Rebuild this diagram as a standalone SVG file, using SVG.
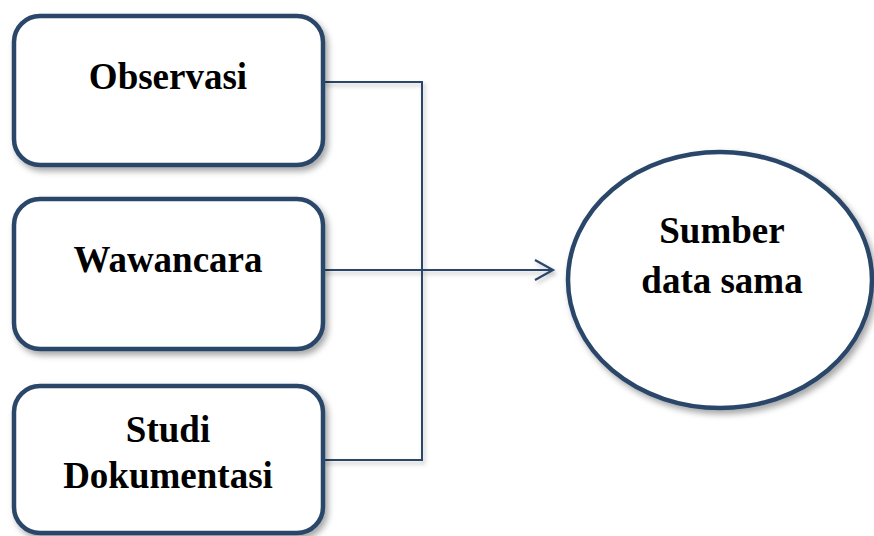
<svg xmlns="http://www.w3.org/2000/svg" width="874" height="536" viewBox="0 0 874 536">
<defs>
<filter id="sh" x="-10%" y="-10%" width="125%" height="130%">
<feDropShadow dx="3" dy="4" stdDeviation="3" flood-color="#000" flood-opacity="0.35"/>
</filter>
<filter id="lsh" x="-5%" y="-20%" width="110%" height="200%">
<feDropShadow dx="2" dy="3" stdDeviation="2" flood-color="#000" flood-opacity="0.25"/>
</filter>
<marker id="arr" markerWidth="22" markerHeight="24" refX="19" refY="12" orient="auto" markerUnits="userSpaceOnUse">
<path d="M1,2 L19,12 L1,22" fill="none" stroke="#2a4669" stroke-width="2.2"/>
</marker>
</defs>
<style>
.box{fill:#fff;stroke:#2a4669;stroke-width:4.5;filter:url(#sh)}
.t{font-family:"Liberation Serif","Times New Roman",serif;font-weight:bold;font-size:37px;fill:#000;text-anchor:middle}
.c{fill:none;stroke:#2a4669;stroke-width:2}
</style>
<rect width="874" height="536" fill="#fff"/>
<g id="connectors" filter="url(#lsh)">
<polyline class="c" points="323,82 422,82 422,460 323,460"/>
<line class="c" x1="323" y1="270" x2="553" y2="270" marker-end="url(#arr)"/>
</g>
<g id="observasi">
<rect class="box" x="14" y="16" width="309" height="149" rx="26"/>
<text class="t" x="168" y="89">Observasi</text>
</g>
<g id="wawancara">
<rect class="box" x="14" y="199" width="309" height="150" rx="26"/>
<text class="t" x="168" y="272">Wawancara</text>
</g>
<g id="studi">
<rect class="box" x="14" y="386" width="309" height="147" rx="26"/>
<text class="t" x="168" y="442">Studi</text>
<text class="t" x="168" y="488">Dokumentasi</text>
</g>
<g id="sumber">
<ellipse class="box" cx="720" cy="280" rx="152" ry="128"/>
<text class="t" x="722" y="243">Sumber</text>
<text class="t" x="722" y="293">data sama</text>
</g>
</svg>
